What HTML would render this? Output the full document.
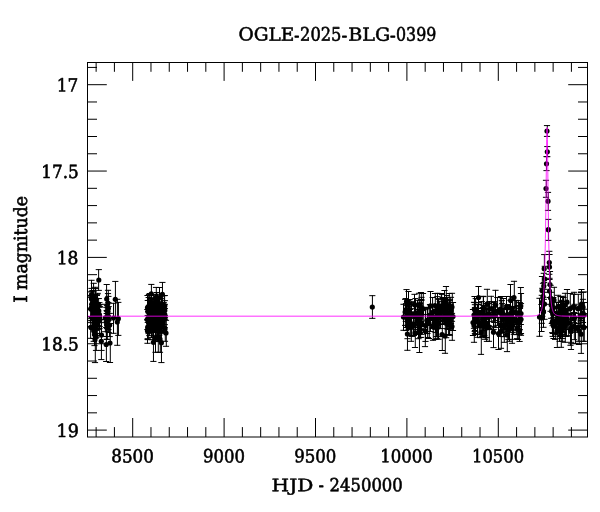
<!DOCTYPE html>
<html lang="en"><head><meta charset="utf-8"><title>OGLE-2025-BLG-0399</title>
<style>html,body{margin:0;padding:0;background:#fff;}body{width:600px;height:512px;overflow:hidden;}svg{display:block;}text{font-family:"DejaVu Serif","Liberation Serif",serif;fill:#000;stroke:#000;stroke-linejoin:round;text-rendering:geometricPrecision;}</style>
</head><body>
<svg width="600" height="512" viewBox="0 0 600 512">
<rect width="600" height="512" fill="#fff"/>
<g stroke="#000" stroke-width="1" fill="none" stroke-linecap="round">
<path d="M372.42 295.66V318.34M369.6 295.66h5.4M369.6 318.34h5.4M98.62 269.62V290.38M96.1 269.62h5.4M96.1 290.38h5.4M91.50 280.30V309.30M88.8 280.30h5.4M88.8 309.30h5.4M93.58 283.30V309.30M91.0 283.30h5.4M91.0 309.30h5.4M95.30 287.30V315.30M92.3 287.30h5.4M92.3 315.30h5.4M106.58 284.50V313.50M104.0 284.50h5.4M104.0 313.50h5.4M108.30 293.58V329.42M105.3 293.58h5.4M105.3 329.42h5.4M108.30 290.30V316.30M105.3 290.30h5.4M105.3 316.30h5.4M107.30 311.30V339.30M104.3 311.30h5.4M104.3 339.30h5.4M115.42 281.42V317.42M112.6 281.42h5.4M112.6 317.42h5.4M118.42 302.38V335.38M115.6 302.38h5.4M115.6 335.38h5.4M113.50 303.30V333.30M110.8 303.30h5.4M110.8 333.30h5.4M117.42 299.30V345.30M114.6 299.30h5.4M114.6 345.30h5.4M95.30 316.58V362.58M92.3 316.58h5.4M92.3 362.58h5.4M96.30 321.58V350.42M93.3 321.58h5.4M93.3 350.42h5.4M101.42 322.66V359.58M98.6 322.66h5.4M98.6 359.58h5.4M101.50 319.58V350.42M98.8 319.58h5.4M98.8 350.42h5.4M106.38 327.50V361.50M103.5 327.50h5.4M103.5 361.50h5.4M110.30 323.50V362.50M107.3 323.50h5.4M107.3 362.50h5.4M94.52 323.45V345.61M91.8 323.45h5.4M91.8 345.61h5.4M94.35 305.49V327.31M91.4 305.49h5.4M91.4 327.31h5.4M95.66 306.35V329.53M93.2 306.35h5.4M93.2 329.53h5.4M95.64 308.66V330.42M93.2 308.66h5.4M93.2 330.42h5.4M95.61 288.48V309.37M93.1 288.48h5.4M93.1 309.37h5.4M95.43 314.39V335.60M92.6 314.39h5.4M92.6 335.60h5.4M93.65 318.43V338.51M91.2 318.43h5.4M91.2 338.51h5.4M90.63 295.43V322.64M88.1 295.43h5.4M88.1 322.64h5.4M98.55 305.48V326.40M95.9 305.48h5.4M95.9 326.40h5.4M94.51 294.67V322.30M91.8 294.67h5.4M91.8 322.30h5.4M96.30 302.40V326.48M93.3 302.40h5.4M93.3 326.48h5.4M97.37 294.33V320.57M94.5 294.33h5.4M94.5 320.57h5.4M98.33 306.50V328.39M95.4 306.50h5.4M95.4 328.39h5.4M92.49 290.46V318.32M89.8 290.46h5.4M89.8 318.32h5.4M91.37 297.56V318.68M88.5 297.56h5.4M88.5 318.68h5.4M99.56 307.32V328.65M96.9 307.32h5.4M96.9 328.65h5.4M95.56 299.36V320.47M93.0 299.36h5.4M93.0 320.47h5.4M93.59 320.48V341.33M91.0 320.48h5.4M91.0 341.33h5.4M99.60 306.45V333.59M97.1 306.45h5.4M97.1 333.59h5.4M97.66 303.58V329.35M95.2 303.58h5.4M95.2 329.35h5.4M97.56 293.35V316.69M95.0 293.35h5.4M95.0 316.69h5.4M91.44 296.31V320.66M88.7 296.31h5.4M88.7 320.66h5.4M94.53 294.52V322.37M91.9 294.52h5.4M91.9 322.37h5.4M92.55 304.58V329.36M89.9 304.58h5.4M89.9 329.36h5.4M91.51 288.38V309.51M88.8 288.38h5.4M88.8 309.51h5.4M99.50 304.54V326.67M96.8 304.54h5.4M96.8 326.67h5.4M95.55 309.36V333.42M92.9 309.36h5.4M92.9 333.42h5.4M90.63 316.52V338.31M88.1 316.52h5.4M88.1 338.31h5.4M96.41 302.32V328.48M93.6 302.32h5.4M93.6 328.48h5.4M91.57 291.35V317.48M89.0 291.35h5.4M89.0 317.48h5.4M99.46 302.69V326.43M96.7 302.69h5.4M96.7 326.43h5.4M92.70 305.48V328.34M90.3 305.48h5.4M90.3 328.34h5.4M94.44 302.53V324.30M91.7 302.53h5.4M91.7 324.30h5.4M96.67 295.48V318.60M94.2 295.48h5.4M94.2 318.60h5.4M97.31 302.62V325.46M94.3 302.62h5.4M94.3 325.46h5.4M91.46 295.62V320.61M88.7 295.62h5.4M88.7 320.61h5.4M92.55 306.36V327.40M89.9 306.36h5.4M89.9 327.40h5.4M98.64 298.55V322.67M96.1 298.55h5.4M96.1 322.67h5.4M97.32 309.68V335.43M94.3 309.68h5.4M94.3 335.43h5.4M97.69 302.64V325.61M95.3 302.64h5.4M95.3 325.61h5.4M95.48 313.60V338.44M92.8 313.60h5.4M92.8 338.44h5.4M96.49 311.45V337.32M93.8 311.45h5.4M93.8 337.32h5.4M105.37 304.30V331.69M102.5 304.30h5.4M102.5 331.69h5.4M108.47 296.40V320.45M105.7 296.40h5.4M105.7 320.45h5.4M108.57 306.63V332.56M106.0 306.63h5.4M106.0 332.56h5.4M106.43 307.34V336.49M103.6 307.34h5.4M103.6 336.49h5.4M108.45 302.61V329.61M105.7 302.61h5.4M105.7 329.61h5.4M109.57 313.40V336.60M107.0 313.40h5.4M107.0 336.60h5.4M106.69 305.39V328.57M104.3 305.39h5.4M104.3 328.57h5.4M106.60 310.47V339.38M104.0 310.47h5.4M104.0 339.38h5.4M151.42 284.42V303.42M148.6 284.42h5.4M148.6 303.42h5.4M162.46 282.42V306.42M159.7 282.42h5.4M159.7 306.42h5.4M156.30 287.42V307.42M153.3 287.42h5.4M153.3 307.42h5.4M159.50 287.50V307.50M156.8 287.50h5.4M156.8 307.50h5.4M147.50 295.50V319.50M144.8 295.50h5.4M144.8 319.50h5.4M153.46 323.42V361.42M150.7 323.42h5.4M150.7 361.42h5.4M161.46 322.58V362.58M158.7 322.58h5.4M158.7 362.58h5.4M155.50 324.30V352.30M152.8 324.30h5.4M152.8 352.30h5.4M158.30 322.30V352.30M155.3 322.30h5.4M155.3 352.30h5.4M160.30 326.30V352.30M157.3 326.30h5.4M157.3 352.30h5.4M147.50 319.30V343.30M144.8 319.30h5.4M144.8 343.30h5.4M165.30 317.30V341.30M162.3 317.30h5.4M162.3 341.30h5.4M166.30 320.30V346.30M163.3 320.30h5.4M163.3 346.30h5.4M148.56 297.54V317.59M146.0 297.54h5.4M146.0 317.59h5.4M161.47 313.70V332.53M158.7 313.70h5.4M158.7 332.53h5.4M162.31 308.63V328.48M159.3 308.63h5.4M159.3 328.48h5.4M154.67 311.34V332.58M152.2 311.34h5.4M152.2 332.58h5.4M161.52 307.39V327.55M158.8 307.39h5.4M158.8 327.55h5.4M153.32 311.66V330.68M150.3 311.66h5.4M150.3 330.68h5.4M151.31 307.37V329.36M148.3 307.37h5.4M148.3 329.36h5.4M153.60 313.34V337.34M151.1 313.34h5.4M151.1 337.34h5.4M148.68 305.31V326.58M146.3 305.31h5.4M146.3 326.58h5.4M157.38 300.51V322.37M154.5 300.51h5.4M154.5 322.37h5.4M161.42 298.66V317.68M158.6 298.66h5.4M158.6 317.68h5.4M156.65 292.53V311.59M154.2 292.53h5.4M154.2 311.59h5.4M154.61 298.60V316.67M152.1 298.60h5.4M152.1 316.67h5.4M159.39 311.48V335.37M156.5 311.48h5.4M156.5 335.37h5.4M159.36 301.32V319.37M156.4 301.32h5.4M156.4 319.37h5.4M155.61 313.50V337.35M153.1 313.50h5.4M153.1 337.35h5.4M149.52 308.49V330.47M146.9 308.49h5.4M146.9 330.47h5.4M152.64 307.38V328.58M150.2 307.38h5.4M150.2 328.58h5.4M148.44 311.55V331.37M145.7 311.55h5.4M145.7 331.37h5.4M151.42 305.60V327.65M148.6 305.60h5.4M148.6 327.65h5.4M151.56 298.53V323.51M149.0 298.53h5.4M149.0 323.51h5.4M164.32 295.65V318.44M161.4 295.65h5.4M161.4 318.44h5.4M150.37 305.62V323.66M147.5 305.62h5.4M147.5 323.66h5.4M161.35 302.43V322.37M158.4 302.43h5.4M158.4 322.37h5.4M151.52 302.57V327.51M148.8 302.57h5.4M148.8 327.51h5.4M151.44 295.38V317.64M148.7 295.38h5.4M148.7 317.64h5.4M157.47 316.64V339.46M154.7 316.64h5.4M154.7 339.46h5.4M162.65 312.30V330.39M160.2 312.30h5.4M160.2 330.39h5.4M163.60 302.44V326.59M161.0 302.44h5.4M161.0 326.59h5.4M153.67 294.40V315.38M151.2 294.40h5.4M151.2 315.38h5.4M149.42 316.33V335.63M146.6 316.33h5.4M146.6 335.63h5.4M152.61 299.64V322.68M150.1 299.64h5.4M150.1 322.68h5.4M164.60 304.37V324.65M162.1 304.37h5.4M162.1 324.65h5.4M157.53 294.33V316.49M154.9 294.33h5.4M154.9 316.49h5.4M150.67 297.66V320.41M148.2 297.66h5.4M148.2 320.41h5.4M147.62 300.48V322.46M145.1 300.48h5.4M145.1 322.46h5.4M151.62 311.64V330.50M149.1 311.64h5.4M149.1 330.50h5.4M161.54 307.64V325.68M158.9 307.64h5.4M158.9 325.68h5.4M157.48 318.32V341.53M154.7 318.32h5.4M154.7 341.53h5.4M161.47 303.46V325.56M158.7 303.46h5.4M158.7 325.56h5.4M152.63 311.55V331.55M150.1 311.55h5.4M150.1 331.55h5.4M151.33 294.59V315.52M148.4 294.59h5.4M148.4 315.52h5.4M158.67 314.64V337.68M156.2 314.64h5.4M156.2 337.68h5.4M156.69 292.54V315.38M154.3 292.54h5.4M154.3 315.38h5.4M164.61 300.63V319.67M162.1 300.63h5.4M162.1 319.67h5.4M160.50 310.58V330.66M157.8 310.58h5.4M157.8 330.66h5.4M154.59 299.59V320.49M152.0 299.59h5.4M152.0 320.49h5.4M148.69 294.45V317.52M146.3 294.45h5.4M146.3 317.52h5.4M151.48 314.69V337.43M148.7 314.69h5.4M148.7 337.43h5.4M160.63 308.46V327.50M158.1 308.46h5.4M158.1 327.50h5.4M159.51 306.38V330.54M156.8 306.38h5.4M156.8 330.54h5.4M154.41 301.52V321.61M151.6 301.52h5.4M151.6 321.61h5.4M148.30 320.36V339.64M145.3 320.36h5.4M145.3 339.64h5.4M158.34 297.59V318.49M155.4 297.59h5.4M155.4 318.49h5.4M149.61 307.59V331.34M147.1 307.59h5.4M147.1 331.34h5.4M154.31 300.33V324.45M151.3 300.33h5.4M151.3 324.45h5.4M161.55 295.50V314.47M158.9 295.50h5.4M158.9 314.47h5.4M164.65 308.45V327.69M162.2 308.45h5.4M162.2 327.69h5.4M163.36 307.65V328.34M160.5 307.65h5.4M160.5 328.34h5.4M149.32 306.59V329.57M146.4 306.59h5.4M146.4 329.57h5.4M159.56 308.38V331.49M156.9 308.38h5.4M156.9 331.49h5.4M161.44 308.41V330.65M158.7 308.41h5.4M158.7 330.65h5.4M147.43 309.46V329.60M144.6 309.46h5.4M144.6 329.60h5.4M157.65 296.59V321.45M155.2 296.59h5.4M155.2 321.45h5.4M164.64 295.54V315.61M162.1 295.54h5.4M162.1 315.61h5.4M152.69 311.50V332.53M150.3 311.50h5.4M150.3 332.53h5.4M158.64 307.64V327.50M156.2 307.64h5.4M156.2 327.50h5.4M149.34 300.42V321.63M146.4 300.42h5.4M146.4 321.63h5.4M149.63 293.54V312.69M147.1 293.54h5.4M147.1 312.69h5.4M152.35 321.53V339.66M149.4 321.53h5.4M149.4 339.66h5.4M161.53 307.66V331.53M158.9 307.66h5.4M158.9 331.53h5.4M154.34 302.58V327.45M151.4 302.58h5.4M151.4 327.45h5.4M159.46 305.35V326.59M156.7 305.35h5.4M156.7 326.59h5.4M156.36 318.51V341.59M153.5 318.51h5.4M153.5 341.59h5.4M147.58 315.43V338.69M145.0 315.43h5.4M145.0 338.69h5.4M153.57 315.55V335.34M151.0 315.55h5.4M151.0 335.34h5.4M150.63 303.34V323.47M148.1 303.34h5.4M148.1 323.47h5.4M148.53 311.69V333.64M145.9 311.69h5.4M145.9 333.64h5.4M157.43 317.37V336.34M154.6 317.37h5.4M154.6 336.34h5.4M147.60 320.49V339.47M145.0 320.49h5.4M145.0 339.47h5.4M158.34 312.55V335.52M155.4 312.55h5.4M155.4 335.52h5.4M156.55 303.60V324.43M153.9 303.60h5.4M153.9 324.43h5.4M154.51 306.35V330.53M151.8 306.35h5.4M151.8 330.53h5.4M158.63 311.62V331.30M156.1 311.62h5.4M156.1 331.30h5.4M161.60 311.63V333.67M159.1 311.63h5.4M159.1 333.67h5.4M406.50 289.58V313.42M403.8 289.58h5.4M403.8 313.42h5.4M408.50 291.50V315.50M405.8 291.50h5.4M405.8 315.50h5.4M421.30 292.50V321.65M418.3 292.50h5.4M418.3 321.65h5.4M419.30 293.30V319.42M416.3 293.30h5.4M416.3 319.42h5.4M423.30 293.50V324.36M420.3 293.50h5.4M420.3 324.36h5.4M430.50 291.50V320.40M427.8 291.50h5.4M427.8 320.40h5.4M437.50 293.30V319.54M434.8 293.30h5.4M434.8 319.54h5.4M435.30 293.50V317.49M432.3 293.50h5.4M432.3 317.49h5.4M441.30 293.50V318.53M438.3 293.50h5.4M438.3 318.53h5.4M446.30 286.50V314.50M443.3 286.50h5.4M443.3 314.50h5.4M444.50 290.50V316.50M441.8 290.50h5.4M441.8 316.50h5.4M452.30 293.30V321.30M449.3 293.30h5.4M449.3 321.30h5.4M449.30 293.50V317.52M446.3 293.50h5.4M446.3 317.52h5.4M403.50 304.30V330.30M400.8 304.30h5.4M400.8 330.30h5.4M453.30 302.50V330.50M450.3 302.50h5.4M450.3 330.50h5.4M407.46 318.30V350.30M404.7 318.30h5.4M404.7 350.30h5.4M415.30 318.42V347.50M412.3 318.42h5.4M412.3 347.50h5.4M419.46 311.50V352.50M416.7 311.50h5.4M416.7 352.50h5.4M425.30 314.60V346.62M422.3 314.60h5.4M422.3 346.62h5.4M425.50 309.65V341.42M422.8 309.65h5.4M422.8 341.42h5.4M435.30 309.35V339.50M432.3 309.35h5.4M432.3 339.50h5.4M433.30 311.59V340.30M430.3 311.59h5.4M430.3 340.30h5.4M442.30 318.50V350.50M439.3 318.50h5.4M439.3 350.50h5.4M445.30 319.30V353.30M442.3 319.30h5.4M442.3 353.30h5.4M452.30 313.39V340.30M449.3 313.39h5.4M449.3 340.30h5.4M411.30 308.68V341.30M408.3 308.68h5.4M408.3 341.30h5.4M429.30 307.62V338.50M426.3 307.62h5.4M426.3 338.50h5.4M438.50 308.45V339.30M435.8 308.45h5.4M435.8 339.30h5.4M432.61 305.45V328.48M430.1 305.45h5.4M430.1 328.48h5.4M418.50 309.70V338.69M415.8 309.70h5.4M415.8 338.69h5.4M438.56 299.33V323.67M436.0 299.33h5.4M436.0 323.67h5.4M409.52 299.67V324.57M406.8 299.67h5.4M406.8 324.57h5.4M432.59 297.47V327.47M430.0 297.47h5.4M430.0 327.47h5.4M448.43 314.33V334.64M445.6 314.33h5.4M445.6 334.64h5.4M449.66 307.35V335.37M447.2 307.35h5.4M447.2 335.37h5.4M414.51 294.34V315.47M411.8 294.34h5.4M411.8 315.47h5.4M435.43 309.30V329.36M432.6 309.30h5.4M432.6 329.36h5.4M449.68 299.69V329.33M447.3 299.69h5.4M447.3 329.33h5.4M417.32 306.38V334.55M414.3 306.38h5.4M414.3 334.55h5.4M405.35 299.34V325.37M402.4 299.34h5.4M402.4 325.37h5.4M415.42 303.38V329.57M412.6 303.38h5.4M412.6 329.57h5.4M409.42 304.32V328.49M406.6 304.32h5.4M406.6 328.49h5.4M407.64 302.59V325.70M405.2 302.59h5.4M405.2 325.70h5.4M427.32 307.31V333.55M424.3 307.31h5.4M424.3 333.55h5.4M411.47 301.69V328.63M408.7 301.69h5.4M408.7 328.63h5.4M421.56 314.32V334.37M418.9 314.32h5.4M418.9 334.37h5.4M421.30 299.63V329.47M418.3 299.63h5.4M418.3 329.47h5.4M427.48 307.51V333.54M424.7 307.51h5.4M424.7 333.54h5.4M408.36 300.40V322.41M405.4 300.40h5.4M405.4 322.41h5.4M409.50 299.49V325.32M406.8 299.49h5.4M406.8 325.32h5.4M435.56 309.69V332.45M432.9 309.69h5.4M432.9 332.45h5.4M417.45 309.40V333.32M414.7 309.40h5.4M414.7 333.32h5.4M447.57 307.35V329.30M445.0 307.35h5.4M445.0 329.30h5.4M420.46 306.43V330.39M417.7 306.43h5.4M417.7 330.39h5.4M417.54 300.32V327.37M414.9 300.32h5.4M414.9 327.37h5.4M449.42 305.50V334.53M446.6 305.50h5.4M446.6 334.53h5.4M430.57 305.35V331.57M428.0 305.35h5.4M428.0 331.57h5.4M443.48 299.36V320.49M440.8 299.36h5.4M440.8 320.49h5.4M406.50 305.62V327.48M403.8 305.62h5.4M403.8 327.48h5.4M411.67 316.34V336.45M409.2 316.34h5.4M409.2 336.45h5.4M419.61 302.31V326.36M417.1 302.31h5.4M417.1 326.36h5.4M444.52 298.45V321.31M441.9 298.45h5.4M441.9 321.31h5.4M420.30 311.63V332.55M417.3 311.63h5.4M417.3 332.55h5.4M408.61 306.69V329.56M406.1 306.69h5.4M406.1 329.56h5.4M419.65 304.32V333.58M417.2 304.32h5.4M417.2 333.58h5.4M442.60 297.50V324.46M440.0 297.50h5.4M440.0 324.46h5.4M430.31 304.56V325.57M427.3 304.56h5.4M427.3 325.57h5.4M445.58 299.31V323.55M443.0 299.31h5.4M443.0 323.55h5.4M450.50 304.42V328.53M447.8 304.42h5.4M447.8 328.53h5.4M437.47 296.65V319.42M434.7 296.65h5.4M434.7 319.42h5.4M421.48 297.33V326.53M418.8 297.33h5.4M418.8 326.53h5.4M421.47 300.50V328.34M418.7 300.50h5.4M418.7 328.34h5.4M450.69 297.33V323.60M448.3 297.33h5.4M448.3 323.60h5.4M436.49 310.44V336.55M433.8 310.44h5.4M433.8 336.55h5.4M413.65 314.66V335.36M411.2 314.66h5.4M411.2 335.36h5.4M437.32 316.68V338.68M434.4 316.68h5.4M434.4 338.68h5.4M446.41 305.49V328.56M443.6 305.49h5.4M443.6 328.56h5.4M420.65 307.64V337.36M418.2 307.64h5.4M418.2 337.36h5.4M446.69 295.54V315.55M444.3 295.54h5.4M444.3 315.55h5.4M415.49 298.57V327.38M412.8 298.57h5.4M412.8 327.38h5.4M439.64 301.34V328.56M437.1 301.34h5.4M437.1 328.56h5.4M449.62 300.41V324.67M447.1 300.41h5.4M447.1 324.67h5.4M450.32 302.38V323.37M447.3 302.38h5.4M447.3 323.37h5.4M410.68 302.57V323.66M408.2 302.57h5.4M408.2 323.66h5.4M438.55 298.68V328.59M435.9 298.68h5.4M435.9 328.59h5.4M420.48 311.32V337.54M417.7 311.32h5.4M417.7 337.54h5.4M421.40 299.51V323.69M418.6 299.51h5.4M418.6 323.69h5.4M410.34 309.43V335.60M407.4 309.43h5.4M407.4 335.60h5.4M441.69 294.42V321.68M439.3 294.42h5.4M439.3 321.68h5.4M440.53 305.62V328.48M437.9 305.62h5.4M437.9 328.48h5.4M427.65 308.59V337.46M425.2 308.59h5.4M425.2 337.46h5.4M405.60 298.58V321.36M403.1 298.58h5.4M403.1 321.36h5.4M407.51 313.32V338.69M404.8 313.32h5.4M404.8 338.69h5.4M406.32 303.63V330.55M403.3 303.63h5.4M403.3 330.55h5.4M447.43 297.61V318.58M444.6 297.61h5.4M444.6 318.58h5.4M419.66 303.49V329.46M417.2 303.49h5.4M417.2 329.46h5.4M443.32 298.45V324.40M440.3 298.45h5.4M440.3 324.40h5.4M437.65 308.30V336.65M435.2 308.30h5.4M435.2 336.65h5.4M446.36 308.51V337.69M443.5 308.51h5.4M443.5 337.69h5.4M413.62 313.46V335.32M411.1 313.46h5.4M411.1 335.32h5.4M478.50 286.50V308.50M475.8 286.50h5.4M475.8 308.50h5.4M487.30 289.30V319.37M484.3 289.30h5.4M484.3 319.37h5.4M495.50 290.30V320.54M492.8 290.30h5.4M492.8 320.54h5.4M506.50 296.50V318.50M503.8 296.50h5.4M503.8 318.50h5.4M510.50 284.50V316.50M507.8 284.50h5.4M507.8 316.50h5.4M514.30 281.30V314.30M511.3 281.30h5.4M511.3 314.30h5.4M520.62 287.50V324.50M518.1 287.50h5.4M518.1 324.50h5.4M521.30 293.50V333.50M518.3 293.50h5.4M518.3 333.50h5.4M474.50 296.50V322.50M471.8 296.50h5.4M471.8 322.50h5.4M474.30 302.30V328.30M471.3 302.30h5.4M471.3 328.30h5.4M473.30 309.50V335.50M470.3 309.50h5.4M470.3 335.50h5.4M483.30 296.30V326.61M480.3 296.30h5.4M480.3 326.61h5.4M491.30 296.30V321.65M488.3 296.30h5.4M488.3 321.65h5.4M500.30 297.30V321.62M497.3 297.30h5.4M497.3 321.62h5.4M503.30 298.50V328.66M500.3 298.50h5.4M500.3 328.66h5.4M474.30 309.30V342.30M471.3 309.30h5.4M471.3 342.30h5.4M481.30 310.62V354.38M478.3 310.62h5.4M478.3 354.38h5.4M493.50 316.57V347.62M490.8 316.57h5.4M490.8 347.62h5.4M498.50 317.50V349.50M495.8 317.50h5.4M495.8 349.50h5.4M501.30 314.60V348.30M498.3 314.60h5.4M498.3 348.30h5.4M507.30 317.62V351.62M504.3 317.62h5.4M504.3 351.62h5.4M512.30 311.58V343.30M509.3 311.58h5.4M509.3 343.30h5.4M518.30 305.56V339.50M515.3 305.56h5.4M515.3 339.50h5.4M521.30 303.58V335.30M518.3 303.58h5.4M518.3 335.30h5.4M477.50 304.62V337.30M474.8 304.62h5.4M474.8 337.30h5.4M485.30 305.61V339.30M482.3 305.61h5.4M482.3 339.30h5.4M489.30 312.58V341.30M486.3 312.58h5.4M486.3 341.30h5.4M504.30 308.62V342.30M501.3 308.62h5.4M501.3 342.30h5.4M509.50 312.65V341.30M506.8 312.65h5.4M506.8 341.30h5.4M512.50 311.30V339.30M509.8 311.30h5.4M509.8 339.30h5.4M518.39 300.65V326.42M515.5 300.65h5.4M515.5 326.42h5.4M503.56 314.37V336.67M501.0 314.37h5.4M501.0 336.67h5.4M475.32 307.45V330.50M472.3 307.45h5.4M472.3 330.50h5.4M486.38 308.63V337.47M483.5 308.63h5.4M483.5 337.47h5.4M484.42 308.60V335.60M481.6 308.60h5.4M481.6 335.60h5.4M519.55 320.31V341.45M516.9 320.31h5.4M516.9 341.45h5.4M482.66 307.56V330.59M480.2 307.56h5.4M480.2 330.59h5.4M516.41 306.69V334.65M513.6 306.69h5.4M513.6 334.65h5.4M478.44 304.43V327.66M475.6 304.43h5.4M475.6 327.66h5.4M519.70 308.45V334.32M517.3 308.45h5.4M517.3 334.32h5.4M493.55 302.52V329.42M490.9 302.52h5.4M490.9 329.42h5.4M481.68 301.64V322.47M479.2 301.64h5.4M479.2 322.47h5.4M507.61 304.55V331.37M505.1 304.55h5.4M505.1 331.37h5.4M501.64 300.60V327.45M499.1 300.60h5.4M499.1 327.45h5.4M512.52 297.61V326.43M509.8 297.61h5.4M509.8 326.43h5.4M507.38 305.50V328.61M504.5 305.50h5.4M504.5 328.61h5.4M495.39 304.41V327.44M492.5 304.41h5.4M492.5 327.44h5.4M483.51 296.62V319.49M480.8 296.62h5.4M480.8 319.49h5.4M517.33 318.65V338.67M514.4 318.65h5.4M514.4 338.67h5.4M493.58 306.34V326.39M491.0 306.34h5.4M491.0 326.39h5.4M500.39 313.51V336.44M497.5 313.51h5.4M497.5 336.44h5.4M479.37 310.70V334.60M476.5 310.70h5.4M476.5 334.60h5.4M494.43 301.65V322.52M491.6 301.65h5.4M491.6 322.52h5.4M489.49 301.56V328.54M486.8 301.56h5.4M486.8 328.54h5.4M474.57 302.56V331.42M472.0 302.56h5.4M472.0 331.42h5.4M483.48 305.55V330.68M480.7 305.55h5.4M480.7 330.68h5.4M510.47 300.30V328.68M507.7 300.30h5.4M507.7 328.68h5.4M474.64 304.70V333.58M472.2 304.70h5.4M472.2 333.58h5.4M519.63 302.54V329.61M517.1 302.54h5.4M517.1 329.61h5.4M502.34 303.63V332.49M499.4 303.63h5.4M499.4 332.49h5.4M478.49 304.31V326.46M475.8 304.31h5.4M475.8 326.46h5.4M486.62 303.54V327.49M484.1 303.54h5.4M484.1 327.49h5.4M497.44 297.53V325.34M494.6 297.53h5.4M494.6 325.34h5.4M512.58 311.62V332.43M510.0 311.62h5.4M510.0 332.43h5.4M478.62 302.58V323.64M476.1 302.58h5.4M476.1 323.64h5.4M508.47 319.59V339.60M505.7 319.59h5.4M505.7 339.60h5.4M505.60 313.64V336.43M503.1 313.64h5.4M503.1 336.43h5.4M503.64 308.64V329.54M501.1 308.64h5.4M501.1 329.54h5.4M515.61 300.40V324.68M513.1 300.40h5.4M513.1 324.68h5.4M511.63 308.62V330.65M509.1 308.62h5.4M509.1 330.65h5.4M480.35 313.45V337.63M477.4 313.45h5.4M477.4 337.63h5.4M488.56 303.41V325.59M485.9 303.41h5.4M485.9 325.59h5.4M513.59 306.62V334.32M511.0 306.62h5.4M511.0 334.32h5.4M516.43 300.62V324.69M513.6 300.62h5.4M513.6 324.69h5.4M485.69 315.34V337.65M483.3 315.34h5.4M483.3 337.65h5.4M486.65 314.40V341.40M484.2 314.40h5.4M484.2 341.40h5.4M486.46 309.57V337.52M483.7 309.57h5.4M483.7 337.52h5.4M475.46 308.68V334.41M472.7 308.68h5.4M472.7 334.41h5.4M489.35 303.65V329.61M486.4 303.65h5.4M486.4 329.61h5.4M482.37 314.50V336.34M479.5 314.50h5.4M479.5 336.34h5.4M513.36 307.48V329.68M510.5 307.48h5.4M510.5 329.68h5.4M501.34 296.51V325.64M498.4 296.51h5.4M498.4 325.64h5.4M510.44 296.46V319.70M507.7 296.46h5.4M507.7 319.70h5.4M506.61 309.60V334.68M504.1 309.60h5.4M504.1 334.68h5.4M475.59 298.64V323.58M473.0 298.64h5.4M473.0 323.58h5.4M483.40 313.61V336.60M480.6 313.61h5.4M480.6 336.60h5.4M547.30 125.58V136.42M544.3 125.58h5.4M544.3 136.42h5.4M547.42 146.58V156.66M544.6 146.58h5.4M544.6 156.66h5.4M546.50 156.62V170.62M543.8 156.62h5.4M543.8 170.62h5.4M546.30 180.30V197.30M543.3 180.30h5.4M543.3 197.30h5.4M548.30 192.38V210.38M545.3 192.38h5.4M545.3 210.38h5.4M548.42 219.38V240.38M545.6 219.38h5.4M545.6 240.38h5.4M549.42 251.30V274.30M546.6 251.30h5.4M546.6 274.30h5.4M549.50 254.50V279.50M546.8 254.50h5.4M546.8 279.50h5.4M544.38 254.58V282.58M541.5 254.58h5.4M541.5 282.58h5.4M550.30 271.50V297.50M547.3 271.50h5.4M547.3 297.50h5.4M549.50 278.30V304.30M546.8 278.30h5.4M546.8 304.30h5.4M542.30 276.50V304.50M539.3 276.50h5.4M539.3 304.50h5.4M544.50 289.30V319.30M541.8 289.30h5.4M541.8 319.30h5.4M543.50 297.30V327.30M540.8 297.30h5.4M540.8 327.30h5.4M541.50 304.50V331.50M538.8 304.50h5.4M538.8 331.50h5.4M539.50 298.30V336.30M536.8 298.30h5.4M536.8 336.30h5.4M544.62 266.30V292.30M542.1 266.30h5.4M542.1 292.30h5.4M550.54 285.30V311.30M547.9 285.30h5.4M547.9 311.30h5.4M543.62 273.30V299.30M541.1 273.30h5.4M541.1 299.30h5.4M543.30 283.30V310.30M540.3 283.30h5.4M540.3 310.30h5.4M542.42 288.30V316.30M539.6 288.30h5.4M539.6 316.30h5.4M541.62 295.30V323.30M539.1 295.30h5.4M539.1 323.30h5.4M551.38 292.30V318.30M548.5 292.30h5.4M548.5 318.30h5.4M551.62 297.50V323.50M549.1 297.50h5.4M549.1 323.50h5.4M554.30 287.30V313.30M551.3 287.30h5.4M551.3 313.30h5.4M567.30 289.50V314.67M564.3 289.50h5.4M564.3 314.67h5.4M565.30 293.30V317.30M562.3 293.30h5.4M562.3 317.30h5.4M563.30 296.30V322.51M560.3 296.30h5.4M560.3 322.51h5.4M574.30 292.30V322.62M571.3 292.30h5.4M571.3 322.62h5.4M581.50 289.50V318.52M578.8 289.50h5.4M578.8 318.52h5.4M583.30 292.30V322.49M580.3 292.30h5.4M580.3 322.49h5.4M558.30 295.30V318.54M555.3 295.30h5.4M555.3 318.54h5.4M560.50 296.50V326.66M557.8 296.50h5.4M557.8 326.66h5.4M570.30 293.50V323.62M567.3 293.50h5.4M567.3 323.62h5.4M578.30 294.30V323.49M575.3 294.30h5.4M575.3 323.49h5.4M573.50 294.30V320.30M570.8 294.30h5.4M570.8 320.30h5.4M581.30 292.50V320.50M578.3 292.50h5.4M578.3 320.50h5.4M583.30 299.30V327.30M580.3 299.30h5.4M580.3 327.30h5.4M553.50 313.39V338.50M550.8 313.39h5.4M550.8 338.50h5.4M557.30 314.62V347.50M554.3 314.62h5.4M554.3 347.50h5.4M561.30 313.39V347.30M558.3 313.39h5.4M558.3 347.30h5.4M562.30 309.54V341.30M559.3 309.54h5.4M559.3 341.30h5.4M571.30 313.50V349.50M568.3 313.50h5.4M568.3 349.50h5.4M570.50 315.64V345.30M567.8 315.64h5.4M567.8 345.30h5.4M579.30 317.33V344.50M576.3 317.33h5.4M576.3 344.50h5.4M581.30 315.38V353.38M578.3 315.38h5.4M578.3 353.38h5.4M565.30 309.39V342.30M562.3 309.39h5.4M562.3 342.30h5.4M575.50 313.31V343.30M572.8 313.31h5.4M572.8 343.30h5.4M584.30 313.61V341.30M581.3 313.61h5.4M581.3 341.30h5.4M571.30 314.30V342.30M568.3 314.30h5.4M568.3 342.30h5.4M578.30 313.30V341.30M575.3 313.30h5.4M575.3 341.30h5.4M583.30 313.30V341.30M580.3 313.30h5.4M580.3 341.30h5.4M553.43 297.53V317.60M550.6 297.53h5.4M550.6 317.60h5.4M563.39 305.43V328.46M560.5 305.43h5.4M560.5 328.46h5.4M559.46 307.54V336.33M556.7 307.54h5.4M556.7 336.33h5.4M559.53 314.44V341.34M556.9 314.44h5.4M556.9 341.34h5.4M558.49 302.54V329.53M555.8 302.54h5.4M555.8 329.53h5.4M561.68 304.66V334.45M559.2 304.66h5.4M559.2 334.45h5.4M552.35 299.32V323.38M549.4 299.32h5.4M549.4 323.38h5.4M552.58 308.35V336.40M550.0 308.35h5.4M550.0 336.40h5.4M552.58 301.60V325.70M550.0 301.60h5.4M550.0 325.70h5.4M565.46 301.69V324.31M562.7 301.69h5.4M562.7 324.31h5.4M560.37 304.38V329.56M557.5 304.38h5.4M557.5 329.56h5.4M562.57 317.60V338.59M560.0 317.60h5.4M560.0 338.59h5.4M562.35 301.57V331.45M559.4 301.57h5.4M559.4 331.45h5.4M565.54 301.56V329.53M562.9 301.56h5.4M562.9 329.53h5.4M563.66 303.34V332.65M561.2 303.34h5.4M561.2 332.65h5.4M556.39 306.70V334.68M553.5 306.70h5.4M553.5 334.68h5.4M552.64 307.64V333.49M550.2 307.64h5.4M550.2 333.49h5.4M563.51 297.52V327.44M560.8 297.52h5.4M560.8 327.44h5.4M560.63 310.60V336.42M558.1 310.60h5.4M558.1 336.42h5.4M564.31 314.35V336.32M561.3 314.35h5.4M561.3 336.32h5.4M560.56 313.62V335.52M558.0 313.62h5.4M558.0 335.52h5.4M556.46 302.30V324.55M553.7 302.30h5.4M553.7 324.55h5.4M556.68 308.62V333.62M554.2 308.62h5.4M554.2 333.62h5.4M567.42 308.68V329.45M564.6 308.68h5.4M564.6 329.45h5.4M566.56 308.52V336.45M564.0 308.52h5.4M564.0 336.45h5.4M565.42 309.47V336.35M562.6 309.47h5.4M562.6 336.35h5.4M560.50 310.65V338.38M557.8 310.65h5.4M557.8 338.38h5.4M555.34 313.36V339.41M552.4 313.36h5.4M552.4 339.41h5.4M561.45 300.31V324.48M558.7 300.31h5.4M558.7 324.48h5.4M552.38 312.31V332.64M549.5 312.31h5.4M549.5 332.64h5.4M561.51 314.46V336.42M558.8 314.46h5.4M558.8 336.42h5.4M562.68 297.54V320.39M560.3 297.54h5.4M560.3 320.39h5.4M568.70 310.51V335.63M566.3 310.51h5.4M566.3 335.63h5.4M574.54 304.31V330.69M571.9 304.31h5.4M571.9 330.69h5.4M574.31 305.67V332.32M571.3 305.67h5.4M571.3 332.32h5.4M574.32 312.46V339.67M571.3 312.46h5.4M571.3 339.67h5.4M584.37 302.54V327.43M581.5 302.54h5.4M581.5 327.43h5.4M580.48 306.32V326.37M577.8 306.32h5.4M577.8 326.37h5.4"/>
</g>
<g fill="#000">
<circle cx="372.3" cy="307.0" r="2.6"/>
<circle cx="98.8" cy="280.0" r="2.6"/>
<circle cx="91.5" cy="294.5" r="2.6"/>
<circle cx="93.7" cy="296.0" r="2.6"/>
<circle cx="95.0" cy="301.0" r="2.6"/>
<circle cx="106.7" cy="299.0" r="2.6"/>
<circle cx="108.0" cy="311.5" r="2.6"/>
<circle cx="108.0" cy="303.0" r="2.6"/>
<circle cx="107.0" cy="325.0" r="2.6"/>
<circle cx="115.3" cy="299.3" r="2.6"/>
<circle cx="118.3" cy="318.7" r="2.6"/>
<circle cx="113.5" cy="318.0" r="2.6"/>
<circle cx="117.3" cy="322.0" r="2.6"/>
<circle cx="95.0" cy="339.7" r="2.6"/>
<circle cx="96.0" cy="336.0" r="2.6"/>
<circle cx="101.3" cy="341.3" r="2.6"/>
<circle cx="101.5" cy="335.0" r="2.6"/>
<circle cx="106.2" cy="344.5" r="2.6"/>
<circle cx="110.0" cy="343.0" r="2.6"/>
<circle cx="94.5" cy="334.6" r="2.6"/>
<circle cx="94.1" cy="316.3" r="2.6"/>
<circle cx="95.9" cy="317.8" r="2.6"/>
<circle cx="95.9" cy="319.6" r="2.6"/>
<circle cx="95.8" cy="298.8" r="2.6"/>
<circle cx="95.3" cy="325.0" r="2.6"/>
<circle cx="93.9" cy="328.4" r="2.6"/>
<circle cx="90.8" cy="309.1" r="2.6"/>
<circle cx="98.6" cy="315.9" r="2.6"/>
<circle cx="94.5" cy="308.5" r="2.6"/>
<circle cx="96.0" cy="314.4" r="2.6"/>
<circle cx="97.2" cy="307.4" r="2.6"/>
<circle cx="98.1" cy="317.4" r="2.6"/>
<circle cx="92.5" cy="304.2" r="2.6"/>
<circle cx="91.2" cy="308.3" r="2.6"/>
<circle cx="99.6" cy="318.0" r="2.6"/>
<circle cx="95.7" cy="309.8" r="2.6"/>
<circle cx="93.7" cy="330.8" r="2.6"/>
<circle cx="99.8" cy="320.0" r="2.6"/>
<circle cx="97.9" cy="316.4" r="2.6"/>
<circle cx="97.7" cy="305.0" r="2.6"/>
<circle cx="91.4" cy="308.5" r="2.6"/>
<circle cx="94.6" cy="308.4" r="2.6"/>
<circle cx="92.6" cy="316.9" r="2.6"/>
<circle cx="91.5" cy="298.9" r="2.6"/>
<circle cx="99.5" cy="315.8" r="2.6"/>
<circle cx="95.6" cy="321.2" r="2.6"/>
<circle cx="90.8" cy="327.3" r="2.6"/>
<circle cx="96.3" cy="315.2" r="2.6"/>
<circle cx="91.7" cy="304.3" r="2.6"/>
<circle cx="99.4" cy="314.7" r="2.6"/>
<circle cx="93.0" cy="316.8" r="2.6"/>
<circle cx="94.4" cy="313.3" r="2.6"/>
<circle cx="96.9" cy="307.1" r="2.6"/>
<circle cx="97.0" cy="314.1" r="2.6"/>
<circle cx="91.4" cy="308.3" r="2.6"/>
<circle cx="92.6" cy="316.7" r="2.6"/>
<circle cx="98.8" cy="310.8" r="2.6"/>
<circle cx="97.0" cy="322.6" r="2.6"/>
<circle cx="98.0" cy="314.3" r="2.6"/>
<circle cx="95.5" cy="326.1" r="2.6"/>
<circle cx="96.5" cy="324.2" r="2.6"/>
<circle cx="105.2" cy="318.0" r="2.6"/>
<circle cx="108.4" cy="308.3" r="2.6"/>
<circle cx="108.7" cy="319.7" r="2.6"/>
<circle cx="106.3" cy="321.8" r="2.6"/>
<circle cx="108.4" cy="316.3" r="2.6"/>
<circle cx="109.7" cy="325.0" r="2.6"/>
<circle cx="107.0" cy="316.9" r="2.6"/>
<circle cx="106.7" cy="324.8" r="2.6"/>
<circle cx="151.3" cy="293.8" r="2.6"/>
<circle cx="162.4" cy="294.3" r="2.6"/>
<circle cx="156.0" cy="297.3" r="2.6"/>
<circle cx="159.5" cy="297.5" r="2.6"/>
<circle cx="147.5" cy="307.5" r="2.6"/>
<circle cx="153.4" cy="342.3" r="2.6"/>
<circle cx="161.4" cy="342.7" r="2.6"/>
<circle cx="155.5" cy="338.0" r="2.6"/>
<circle cx="158.0" cy="337.0" r="2.6"/>
<circle cx="160.0" cy="339.0" r="2.6"/>
<circle cx="147.5" cy="331.0" r="2.6"/>
<circle cx="165.0" cy="329.0" r="2.6"/>
<circle cx="166.0" cy="333.0" r="2.6"/>
<circle cx="148.7" cy="307.7" r="2.6"/>
<circle cx="161.4" cy="323.3" r="2.6"/>
<circle cx="162.0" cy="318.6" r="2.6"/>
<circle cx="154.9" cy="321.9" r="2.6"/>
<circle cx="161.5" cy="317.4" r="2.6"/>
<circle cx="153.0" cy="321.4" r="2.6"/>
<circle cx="151.0" cy="318.2" r="2.6"/>
<circle cx="153.8" cy="325.1" r="2.6"/>
<circle cx="149.0" cy="315.9" r="2.6"/>
<circle cx="157.2" cy="311.3" r="2.6"/>
<circle cx="161.3" cy="308.4" r="2.6"/>
<circle cx="156.9" cy="302.2" r="2.6"/>
<circle cx="154.8" cy="307.8" r="2.6"/>
<circle cx="159.2" cy="323.3" r="2.6"/>
<circle cx="159.1" cy="310.1" r="2.6"/>
<circle cx="155.8" cy="325.3" r="2.6"/>
<circle cx="149.6" cy="319.5" r="2.6"/>
<circle cx="152.9" cy="317.9" r="2.6"/>
<circle cx="148.4" cy="321.4" r="2.6"/>
<circle cx="151.3" cy="316.8" r="2.6"/>
<circle cx="151.7" cy="311.1" r="2.6"/>
<circle cx="164.1" cy="307.1" r="2.6"/>
<circle cx="150.2" cy="314.8" r="2.6"/>
<circle cx="161.1" cy="312.3" r="2.6"/>
<circle cx="151.5" cy="315.1" r="2.6"/>
<circle cx="151.4" cy="306.5" r="2.6"/>
<circle cx="157.4" cy="328.1" r="2.6"/>
<circle cx="162.9" cy="321.1" r="2.6"/>
<circle cx="163.7" cy="314.5" r="2.6"/>
<circle cx="153.9" cy="304.7" r="2.6"/>
<circle cx="149.3" cy="326.0" r="2.6"/>
<circle cx="152.8" cy="311.4" r="2.6"/>
<circle cx="164.8" cy="314.5" r="2.6"/>
<circle cx="157.6" cy="305.3" r="2.6"/>
<circle cx="150.9" cy="309.1" r="2.6"/>
<circle cx="147.8" cy="311.4" r="2.6"/>
<circle cx="151.8" cy="321.2" r="2.6"/>
<circle cx="161.6" cy="316.9" r="2.6"/>
<circle cx="157.4" cy="329.8" r="2.6"/>
<circle cx="161.4" cy="314.5" r="2.6"/>
<circle cx="152.8" cy="321.6" r="2.6"/>
<circle cx="151.1" cy="305.1" r="2.6"/>
<circle cx="158.9" cy="326.4" r="2.6"/>
<circle cx="157.0" cy="303.9" r="2.6"/>
<circle cx="164.8" cy="310.4" r="2.6"/>
<circle cx="160.5" cy="320.8" r="2.6"/>
<circle cx="154.7" cy="310.1" r="2.6"/>
<circle cx="149.0" cy="306.0" r="2.6"/>
<circle cx="151.4" cy="326.2" r="2.6"/>
<circle cx="160.8" cy="318.0" r="2.6"/>
<circle cx="159.5" cy="318.4" r="2.6"/>
<circle cx="154.3" cy="311.7" r="2.6"/>
<circle cx="148.0" cy="330.0" r="2.6"/>
<circle cx="158.1" cy="308.1" r="2.6"/>
<circle cx="149.8" cy="319.4" r="2.6"/>
<circle cx="154.0" cy="312.2" r="2.6"/>
<circle cx="161.6" cy="305.0" r="2.6"/>
<circle cx="164.9" cy="318.2" r="2.6"/>
<circle cx="163.2" cy="318.0" r="2.6"/>
<circle cx="149.1" cy="318.2" r="2.6"/>
<circle cx="159.6" cy="319.8" r="2.6"/>
<circle cx="161.4" cy="319.6" r="2.6"/>
<circle cx="147.3" cy="319.6" r="2.6"/>
<circle cx="157.9" cy="309.0" r="2.6"/>
<circle cx="164.8" cy="305.7" r="2.6"/>
<circle cx="153.0" cy="322.0" r="2.6"/>
<circle cx="158.9" cy="317.7" r="2.6"/>
<circle cx="149.1" cy="311.1" r="2.6"/>
<circle cx="149.8" cy="303.3" r="2.6"/>
<circle cx="152.1" cy="330.7" r="2.6"/>
<circle cx="161.6" cy="319.7" r="2.6"/>
<circle cx="154.1" cy="315.0" r="2.6"/>
<circle cx="159.4" cy="315.9" r="2.6"/>
<circle cx="156.2" cy="330.1" r="2.6"/>
<circle cx="147.7" cy="327.2" r="2.6"/>
<circle cx="153.7" cy="325.4" r="2.6"/>
<circle cx="150.8" cy="313.3" r="2.6"/>
<circle cx="148.6" cy="322.9" r="2.6"/>
<circle cx="157.3" cy="326.6" r="2.6"/>
<circle cx="147.7" cy="330.0" r="2.6"/>
<circle cx="158.1" cy="324.1" r="2.6"/>
<circle cx="156.6" cy="314.0" r="2.6"/>
<circle cx="154.5" cy="318.4" r="2.6"/>
<circle cx="158.8" cy="321.4" r="2.6"/>
<circle cx="161.8" cy="322.9" r="2.6"/>
<circle cx="406.5" cy="301.5" r="2.6"/>
<circle cx="408.5" cy="303.5" r="2.6"/>
<circle cx="421.0" cy="307.2" r="2.6"/>
<circle cx="419.0" cy="306.1" r="2.6"/>
<circle cx="423.0" cy="308.8" r="2.6"/>
<circle cx="430.5" cy="305.9" r="2.6"/>
<circle cx="437.5" cy="306.3" r="2.6"/>
<circle cx="435.0" cy="305.5" r="2.6"/>
<circle cx="441.0" cy="306.0" r="2.6"/>
<circle cx="446.0" cy="300.5" r="2.6"/>
<circle cx="444.5" cy="303.5" r="2.6"/>
<circle cx="452.0" cy="307.0" r="2.6"/>
<circle cx="449.0" cy="305.5" r="2.6"/>
<circle cx="403.5" cy="317.0" r="2.6"/>
<circle cx="453.0" cy="316.5" r="2.6"/>
<circle cx="407.4" cy="334.0" r="2.6"/>
<circle cx="415.0" cy="332.9" r="2.6"/>
<circle cx="419.4" cy="332.0" r="2.6"/>
<circle cx="425.0" cy="330.8" r="2.6"/>
<circle cx="425.5" cy="325.6" r="2.6"/>
<circle cx="435.0" cy="324.3" r="2.6"/>
<circle cx="433.0" cy="325.9" r="2.6"/>
<circle cx="442.0" cy="334.5" r="2.6"/>
<circle cx="445.0" cy="336.0" r="2.6"/>
<circle cx="452.0" cy="326.6" r="2.6"/>
<circle cx="411.0" cy="325.0" r="2.6"/>
<circle cx="429.0" cy="323.1" r="2.6"/>
<circle cx="438.5" cy="323.7" r="2.6"/>
<circle cx="432.8" cy="316.9" r="2.6"/>
<circle cx="418.5" cy="324.5" r="2.6"/>
<circle cx="438.7" cy="311.5" r="2.6"/>
<circle cx="409.5" cy="312.3" r="2.6"/>
<circle cx="432.7" cy="312.4" r="2.6"/>
<circle cx="448.3" cy="324.5" r="2.6"/>
<circle cx="449.9" cy="321.2" r="2.6"/>
<circle cx="414.5" cy="304.8" r="2.6"/>
<circle cx="435.3" cy="319.1" r="2.6"/>
<circle cx="450.0" cy="314.5" r="2.6"/>
<circle cx="417.0" cy="320.4" r="2.6"/>
<circle cx="405.1" cy="312.1" r="2.6"/>
<circle cx="415.3" cy="316.4" r="2.6"/>
<circle cx="409.3" cy="316.3" r="2.6"/>
<circle cx="407.9" cy="314.4" r="2.6"/>
<circle cx="427.0" cy="320.3" r="2.6"/>
<circle cx="411.4" cy="315.4" r="2.6"/>
<circle cx="421.6" cy="324.1" r="2.6"/>
<circle cx="421.0" cy="314.6" r="2.6"/>
<circle cx="427.4" cy="320.6" r="2.6"/>
<circle cx="408.1" cy="311.3" r="2.6"/>
<circle cx="409.5" cy="312.3" r="2.6"/>
<circle cx="435.6" cy="321.2" r="2.6"/>
<circle cx="417.4" cy="321.1" r="2.6"/>
<circle cx="447.7" cy="318.1" r="2.6"/>
<circle cx="420.4" cy="318.3" r="2.6"/>
<circle cx="417.6" cy="313.6" r="2.6"/>
<circle cx="449.3" cy="320.0" r="2.6"/>
<circle cx="430.7" cy="318.4" r="2.6"/>
<circle cx="443.5" cy="309.8" r="2.6"/>
<circle cx="406.5" cy="316.6" r="2.6"/>
<circle cx="411.9" cy="326.2" r="2.6"/>
<circle cx="419.8" cy="314.1" r="2.6"/>
<circle cx="444.6" cy="309.7" r="2.6"/>
<circle cx="420.0" cy="322.2" r="2.6"/>
<circle cx="408.8" cy="318.3" r="2.6"/>
<circle cx="419.9" cy="318.9" r="2.6"/>
<circle cx="442.7" cy="311.0" r="2.6"/>
<circle cx="430.0" cy="315.2" r="2.6"/>
<circle cx="445.7" cy="311.3" r="2.6"/>
<circle cx="450.5" cy="316.4" r="2.6"/>
<circle cx="437.4" cy="308.1" r="2.6"/>
<circle cx="421.5" cy="311.8" r="2.6"/>
<circle cx="421.4" cy="314.3" r="2.6"/>
<circle cx="451.0" cy="310.4" r="2.6"/>
<circle cx="436.5" cy="323.5" r="2.6"/>
<circle cx="413.9" cy="325.0" r="2.6"/>
<circle cx="437.1" cy="327.9" r="2.6"/>
<circle cx="446.3" cy="317.1" r="2.6"/>
<circle cx="420.9" cy="322.5" r="2.6"/>
<circle cx="447.0" cy="305.6" r="2.6"/>
<circle cx="415.5" cy="312.9" r="2.6"/>
<circle cx="439.8" cy="314.9" r="2.6"/>
<circle cx="449.8" cy="312.6" r="2.6"/>
<circle cx="450.0" cy="312.7" r="2.6"/>
<circle cx="410.9" cy="313.3" r="2.6"/>
<circle cx="438.6" cy="313.8" r="2.6"/>
<circle cx="420.4" cy="324.3" r="2.6"/>
<circle cx="421.3" cy="311.7" r="2.6"/>
<circle cx="410.1" cy="322.5" r="2.6"/>
<circle cx="442.0" cy="308.1" r="2.6"/>
<circle cx="440.6" cy="317.1" r="2.6"/>
<circle cx="427.9" cy="323.1" r="2.6"/>
<circle cx="405.8" cy="309.9" r="2.6"/>
<circle cx="407.5" cy="326.0" r="2.6"/>
<circle cx="406.0" cy="317.2" r="2.6"/>
<circle cx="447.3" cy="308.2" r="2.6"/>
<circle cx="419.9" cy="316.4" r="2.6"/>
<circle cx="443.0" cy="311.3" r="2.6"/>
<circle cx="437.9" cy="322.4" r="2.6"/>
<circle cx="446.2" cy="323.2" r="2.6"/>
<circle cx="413.8" cy="324.2" r="2.6"/>
<circle cx="478.5" cy="297.5" r="2.6"/>
<circle cx="487.0" cy="304.1" r="2.6"/>
<circle cx="495.5" cy="305.3" r="2.6"/>
<circle cx="506.5" cy="307.5" r="2.6"/>
<circle cx="510.5" cy="300.5" r="2.6"/>
<circle cx="514.0" cy="297.5" r="2.6"/>
<circle cx="520.8" cy="306.0" r="2.6"/>
<circle cx="521.0" cy="313.5" r="2.6"/>
<circle cx="474.5" cy="309.5" r="2.6"/>
<circle cx="474.0" cy="315.0" r="2.6"/>
<circle cx="473.0" cy="322.5" r="2.6"/>
<circle cx="483.0" cy="311.4" r="2.6"/>
<circle cx="491.0" cy="308.9" r="2.6"/>
<circle cx="500.0" cy="309.4" r="2.6"/>
<circle cx="503.0" cy="313.7" r="2.6"/>
<circle cx="474.0" cy="325.5" r="2.6"/>
<circle cx="481.0" cy="332.5" r="2.6"/>
<circle cx="493.5" cy="332.2" r="2.6"/>
<circle cx="498.5" cy="333.5" r="2.6"/>
<circle cx="501.0" cy="331.4" r="2.6"/>
<circle cx="507.0" cy="334.8" r="2.6"/>
<circle cx="512.0" cy="327.4" r="2.6"/>
<circle cx="518.0" cy="322.6" r="2.6"/>
<circle cx="521.0" cy="319.3" r="2.6"/>
<circle cx="477.5" cy="320.9" r="2.6"/>
<circle cx="485.0" cy="322.4" r="2.6"/>
<circle cx="489.0" cy="326.9" r="2.6"/>
<circle cx="504.0" cy="325.4" r="2.6"/>
<circle cx="509.5" cy="326.9" r="2.6"/>
<circle cx="512.5" cy="325.0" r="2.6"/>
<circle cx="518.2" cy="313.6" r="2.6"/>
<circle cx="503.7" cy="325.5" r="2.6"/>
<circle cx="475.0" cy="318.9" r="2.6"/>
<circle cx="486.2" cy="323.1" r="2.6"/>
<circle cx="484.3" cy="322.3" r="2.6"/>
<circle cx="519.6" cy="330.7" r="2.6"/>
<circle cx="482.9" cy="319.2" r="2.6"/>
<circle cx="516.3" cy="320.9" r="2.6"/>
<circle cx="478.3" cy="316.1" r="2.6"/>
<circle cx="520.0" cy="321.2" r="2.6"/>
<circle cx="493.6" cy="315.9" r="2.6"/>
<circle cx="481.9" cy="312.1" r="2.6"/>
<circle cx="507.8" cy="317.9" r="2.6"/>
<circle cx="501.8" cy="314.1" r="2.6"/>
<circle cx="512.5" cy="312.0" r="2.6"/>
<circle cx="507.2" cy="317.1" r="2.6"/>
<circle cx="495.2" cy="315.8" r="2.6"/>
<circle cx="483.5" cy="308.1" r="2.6"/>
<circle cx="517.1" cy="328.9" r="2.6"/>
<circle cx="493.7" cy="316.2" r="2.6"/>
<circle cx="500.2" cy="324.9" r="2.6"/>
<circle cx="479.2" cy="322.9" r="2.6"/>
<circle cx="494.3" cy="312.2" r="2.6"/>
<circle cx="489.5" cy="315.1" r="2.6"/>
<circle cx="474.7" cy="317.0" r="2.6"/>
<circle cx="483.4" cy="318.3" r="2.6"/>
<circle cx="510.4" cy="314.5" r="2.6"/>
<circle cx="474.9" cy="319.3" r="2.6"/>
<circle cx="519.8" cy="316.2" r="2.6"/>
<circle cx="502.1" cy="318.2" r="2.6"/>
<circle cx="478.5" cy="315.2" r="2.6"/>
<circle cx="486.8" cy="315.5" r="2.6"/>
<circle cx="497.3" cy="311.3" r="2.6"/>
<circle cx="512.7" cy="322.1" r="2.6"/>
<circle cx="478.8" cy="313.3" r="2.6"/>
<circle cx="508.4" cy="329.7" r="2.6"/>
<circle cx="505.8" cy="325.1" r="2.6"/>
<circle cx="503.8" cy="319.2" r="2.6"/>
<circle cx="515.8" cy="312.6" r="2.6"/>
<circle cx="511.8" cy="319.8" r="2.6"/>
<circle cx="480.1" cy="325.6" r="2.6"/>
<circle cx="488.6" cy="314.5" r="2.6"/>
<circle cx="513.7" cy="320.4" r="2.6"/>
<circle cx="516.3" cy="312.9" r="2.6"/>
<circle cx="486.0" cy="326.5" r="2.6"/>
<circle cx="486.9" cy="327.7" r="2.6"/>
<circle cx="486.4" cy="323.6" r="2.6"/>
<circle cx="475.4" cy="321.6" r="2.6"/>
<circle cx="489.1" cy="316.8" r="2.6"/>
<circle cx="482.2" cy="325.3" r="2.6"/>
<circle cx="513.2" cy="318.7" r="2.6"/>
<circle cx="501.1" cy="311.2" r="2.6"/>
<circle cx="510.4" cy="308.2" r="2.6"/>
<circle cx="506.8" cy="322.3" r="2.6"/>
<circle cx="475.7" cy="311.3" r="2.6"/>
<circle cx="483.3" cy="325.3" r="2.6"/>
<circle cx="547.0" cy="131.0" r="2.6"/>
<circle cx="547.3" cy="151.8" r="2.6"/>
<circle cx="546.5" cy="163.8" r="2.6"/>
<circle cx="546.0" cy="188.5" r="2.6"/>
<circle cx="548.0" cy="201.2" r="2.6"/>
<circle cx="548.3" cy="229.7" r="2.6"/>
<circle cx="549.3" cy="262.5" r="2.6"/>
<circle cx="549.5" cy="267.0" r="2.6"/>
<circle cx="544.2" cy="268.7" r="2.6"/>
<circle cx="550.0" cy="284.5" r="2.6"/>
<circle cx="549.5" cy="291.0" r="2.6"/>
<circle cx="542.0" cy="290.5" r="2.6"/>
<circle cx="544.5" cy="304.0" r="2.6"/>
<circle cx="543.5" cy="312.0" r="2.6"/>
<circle cx="541.5" cy="318.0" r="2.6"/>
<circle cx="539.5" cy="317.0" r="2.6"/>
<circle cx="544.8" cy="279.0" r="2.6"/>
<circle cx="550.6" cy="298.0" r="2.6"/>
<circle cx="543.8" cy="286.0" r="2.6"/>
<circle cx="543.0" cy="296.5" r="2.6"/>
<circle cx="542.3" cy="302.0" r="2.6"/>
<circle cx="541.8" cy="309.0" r="2.6"/>
<circle cx="551.2" cy="305.0" r="2.6"/>
<circle cx="551.8" cy="310.5" r="2.6"/>
<circle cx="554.0" cy="300.0" r="2.6"/>
<circle cx="567.0" cy="302.2" r="2.6"/>
<circle cx="565.0" cy="305.0" r="2.6"/>
<circle cx="563.0" cy="309.3" r="2.6"/>
<circle cx="574.0" cy="307.4" r="2.6"/>
<circle cx="581.5" cy="304.0" r="2.6"/>
<circle cx="583.0" cy="307.2" r="2.6"/>
<circle cx="558.0" cy="306.8" r="2.6"/>
<circle cx="560.5" cy="311.7" r="2.6"/>
<circle cx="570.0" cy="308.7" r="2.6"/>
<circle cx="578.0" cy="308.7" r="2.6"/>
<circle cx="573.5" cy="307.0" r="2.6"/>
<circle cx="581.0" cy="306.5" r="2.6"/>
<circle cx="583.0" cy="313.0" r="2.6"/>
<circle cx="553.5" cy="325.9" r="2.6"/>
<circle cx="557.0" cy="331.2" r="2.6"/>
<circle cx="561.0" cy="330.1" r="2.6"/>
<circle cx="562.0" cy="325.3" r="2.6"/>
<circle cx="571.0" cy="331.5" r="2.6"/>
<circle cx="570.5" cy="330.4" r="2.6"/>
<circle cx="579.0" cy="330.8" r="2.6"/>
<circle cx="581.0" cy="334.2" r="2.6"/>
<circle cx="565.0" cy="325.6" r="2.6"/>
<circle cx="575.5" cy="328.0" r="2.6"/>
<circle cx="584.0" cy="327.4" r="2.6"/>
<circle cx="571.0" cy="328.0" r="2.6"/>
<circle cx="578.0" cy="327.0" r="2.6"/>
<circle cx="583.0" cy="327.0" r="2.6"/>
<circle cx="553.3" cy="307.7" r="2.6"/>
<circle cx="563.2" cy="316.9" r="2.6"/>
<circle cx="559.4" cy="321.8" r="2.6"/>
<circle cx="559.6" cy="327.7" r="2.6"/>
<circle cx="558.5" cy="316.1" r="2.6"/>
<circle cx="561.9" cy="319.6" r="2.6"/>
<circle cx="552.1" cy="311.1" r="2.6"/>
<circle cx="552.7" cy="322.2" r="2.6"/>
<circle cx="552.7" cy="313.9" r="2.6"/>
<circle cx="565.4" cy="313.0" r="2.6"/>
<circle cx="560.2" cy="316.9" r="2.6"/>
<circle cx="562.7" cy="328.2" r="2.6"/>
<circle cx="562.1" cy="316.5" r="2.6"/>
<circle cx="565.6" cy="315.6" r="2.6"/>
<circle cx="563.9" cy="318.0" r="2.6"/>
<circle cx="556.2" cy="321.0" r="2.6"/>
<circle cx="552.9" cy="320.7" r="2.6"/>
<circle cx="563.5" cy="312.4" r="2.6"/>
<circle cx="560.8" cy="323.5" r="2.6"/>
<circle cx="564.0" cy="325.1" r="2.6"/>
<circle cx="560.7" cy="324.7" r="2.6"/>
<circle cx="556.4" cy="313.3" r="2.6"/>
<circle cx="556.9" cy="321.3" r="2.6"/>
<circle cx="567.3" cy="319.2" r="2.6"/>
<circle cx="566.7" cy="322.5" r="2.6"/>
<circle cx="565.3" cy="322.8" r="2.6"/>
<circle cx="560.5" cy="324.5" r="2.6"/>
<circle cx="555.1" cy="326.2" r="2.6"/>
<circle cx="561.4" cy="312.2" r="2.6"/>
<circle cx="552.2" cy="322.4" r="2.6"/>
<circle cx="561.5" cy="325.4" r="2.6"/>
<circle cx="563.0" cy="308.9" r="2.6"/>
<circle cx="569.0" cy="323.2" r="2.6"/>
<circle cx="574.6" cy="317.5" r="2.6"/>
<circle cx="574.0" cy="319.0" r="2.6"/>
<circle cx="574.0" cy="326.2" r="2.6"/>
<circle cx="584.2" cy="315.0" r="2.6"/>
<circle cx="580.5" cy="316.1" r="2.6"/>
</g>
<g fill="none" stroke="#ff00ff" stroke-linejoin="round">
<polyline stroke-width="0.95" points="87.5,316.20 88.5,316.20 89.5,316.20 90.5,316.20 91.5,316.20 92.5,316.20 93.5,316.20 94.5,316.20 95.5,316.20 96.5,316.20 97.5,316.20 98.5,316.20 99.5,316.20 100.5,316.20 101.5,316.20 102.5,316.20 103.5,316.20 104.5,316.20 105.5,316.20 106.5,316.20 107.5,316.20 108.5,316.20 109.5,316.20 110.5,316.20 111.5,316.20 112.5,316.20 113.5,316.20 114.5,316.20 115.5,316.20 116.5,316.20 117.5,316.20 118.5,316.20 119.5,316.20 120.5,316.20 121.5,316.20 122.5,316.20 123.5,316.20 124.5,316.20 125.5,316.20 126.5,316.20 127.5,316.20 128.5,316.20 129.5,316.20 130.5,316.20 131.5,316.20 132.5,316.20 133.5,316.20 134.5,316.20 135.5,316.20 136.5,316.20 137.5,316.20 138.5,316.20 139.5,316.20 140.5,316.20 141.5,316.20 142.5,316.20 143.5,316.20 144.5,316.20 145.5,316.20 146.5,316.20 147.5,316.20 148.5,316.20 149.5,316.20 150.5,316.20 151.5,316.20 152.5,316.20 153.5,316.20 154.5,316.20 155.5,316.20 156.5,316.20 157.5,316.20 158.5,316.20 159.5,316.20 160.5,316.20 161.5,316.20 162.5,316.20 163.5,316.20 164.5,316.20 165.5,316.20 166.5,316.20 167.5,316.20 168.5,316.20 169.5,316.20 170.5,316.20 171.5,316.20 172.5,316.20 173.5,316.20 174.5,316.20 175.5,316.20 176.5,316.20 177.5,316.20 178.5,316.20 179.5,316.20 180.5,316.20 181.5,316.20 182.5,316.20 183.5,316.20 184.5,316.20 185.5,316.20 186.5,316.20 187.5,316.20 188.5,316.20 189.5,316.20 190.5,316.20 191.5,316.20 192.5,316.20 193.5,316.20 194.5,316.20 195.5,316.20 196.5,316.20 197.5,316.20 198.5,316.20 199.5,316.20 200.5,316.20 201.5,316.20 202.5,316.20 203.5,316.20 204.5,316.20 205.5,316.20 206.5,316.20 207.5,316.20 208.5,316.20 209.5,316.20 210.5,316.20 211.5,316.20 212.5,316.20 213.5,316.20 214.5,316.20 215.5,316.20 216.5,316.20 217.5,316.20 218.5,316.20 219.5,316.20 220.5,316.20 221.5,316.20 222.5,316.20 223.5,316.20 224.5,316.20 225.5,316.20 226.5,316.20 227.5,316.20 228.5,316.20 229.5,316.20 230.5,316.20 231.5,316.20 232.5,316.20 233.5,316.20 234.5,316.20 235.5,316.20 236.5,316.20 237.5,316.20 238.5,316.20 239.5,316.20 240.5,316.20 241.5,316.20 242.5,316.20 243.5,316.20 244.5,316.20 245.5,316.20 246.5,316.20 247.5,316.20 248.5,316.20 249.5,316.20 250.5,316.20 251.5,316.20 252.5,316.20 253.5,316.20 254.5,316.20 255.5,316.20 256.5,316.20 257.5,316.20 258.5,316.20 259.5,316.20 260.5,316.20 261.5,316.20 262.5,316.20 263.5,316.20 264.5,316.20 265.5,316.20 266.5,316.20 267.5,316.20 268.5,316.20 269.5,316.20 270.5,316.20 271.5,316.20 272.5,316.20 273.5,316.20 274.5,316.20 275.5,316.20 276.5,316.20 277.5,316.20 278.5,316.20 279.5,316.20 280.5,316.20 281.5,316.20 282.5,316.20 283.5,316.20 284.5,316.20 285.5,316.20 286.5,316.20 287.5,316.20 288.5,316.20 289.5,316.20 290.5,316.20 291.5,316.20 292.5,316.20 293.5,316.20 294.5,316.20 295.5,316.20 296.5,316.20 297.5,316.20 298.5,316.20 299.5,316.20 300.5,316.20 301.5,316.20 302.5,316.20 303.5,316.20 304.5,316.20 305.5,316.20 306.5,316.20 307.5,316.20 308.5,316.20 309.5,316.20 310.5,316.20 311.5,316.20 312.5,316.20 313.5,316.20 314.5,316.20 315.5,316.20 316.5,316.20 317.5,316.20 318.5,316.20 319.5,316.20 320.5,316.20 321.5,316.20 322.5,316.20 323.5,316.20 324.5,316.20 325.5,316.20 326.5,316.20 327.5,316.20 328.5,316.20 329.5,316.20 330.5,316.20 331.5,316.20 332.5,316.20 333.5,316.20 334.5,316.20 335.5,316.20 336.5,316.20 337.5,316.20 338.5,316.20 339.5,316.20 340.5,316.20 341.5,316.20 342.5,316.20 343.5,316.20 344.5,316.20 345.5,316.20 346.5,316.20 347.5,316.20 348.5,316.20 349.5,316.20 350.5,316.20 351.5,316.20 352.5,316.20 353.5,316.20 354.5,316.20 355.5,316.20 356.5,316.20 357.5,316.20 358.5,316.20 359.5,316.20 360.5,316.20 361.5,316.20 362.5,316.20 363.5,316.20 364.5,316.20 365.5,316.20 366.5,316.20 367.5,316.20 368.5,316.20 369.5,316.20 370.5,316.20 371.5,316.20 372.5,316.20 373.5,316.20 374.5,316.20 375.5,316.20 376.5,316.20 377.5,316.20 378.5,316.20 379.5,316.20 380.5,316.20 381.5,316.20 382.5,316.20 383.5,316.20 384.5,316.20 385.5,316.20 386.5,316.20 387.5,316.20 388.5,316.20 389.5,316.20 390.5,316.20 391.5,316.20 392.5,316.20 393.5,316.20 394.5,316.20 395.5,316.20 396.5,316.20 397.5,316.20 398.5,316.20 399.5,316.20 400.5,316.20 401.5,316.20 402.5,316.20 403.5,316.20 404.5,316.20 405.5,316.20 406.5,316.20 407.5,316.20 408.5,316.20 409.5,316.20 410.5,316.20 411.5,316.20 412.5,316.20 413.5,316.20 414.5,316.20 415.5,316.20 416.5,316.20 417.5,316.20 418.5,316.20 419.5,316.20 420.5,316.20 421.5,316.20 422.5,316.20 423.5,316.20 424.5,316.20 425.5,316.20 426.5,316.20 427.5,316.20 428.5,316.20 429.5,316.20 430.5,316.20 431.5,316.20 432.5,316.20 433.5,316.20 434.5,316.20 435.5,316.20 436.5,316.20 437.5,316.20 438.5,316.20 439.5,316.20 440.5,316.20 441.5,316.20 442.5,316.20 443.5,316.20 444.5,316.20 445.5,316.20 446.5,316.20 447.5,316.20 448.5,316.20 449.5,316.20 450.5,316.20 451.5,316.20 452.5,316.20 453.5,316.20 454.5,316.20 455.5,316.20 456.5,316.20 457.5,316.20 458.5,316.20 459.5,316.20 460.5,316.20 461.5,316.20 462.5,316.20 463.5,316.20 464.5,316.20 465.5,316.20 466.5,316.20 467.5,316.20 468.5,316.20 469.5,316.20 470.5,316.20 471.5,316.20 472.5,316.20 473.5,316.20 474.5,316.20 475.5,316.20 476.5,316.20 477.5,316.20 478.5,316.20 479.5,316.20 480.5,316.20 481.5,316.20 482.5,316.20 483.5,316.20 484.5,316.20 485.5,316.20 486.5,316.20 487.5,316.20 488.5,316.20 489.5,316.20 490.5,316.20 491.5,316.20 492.5,316.20 493.5,316.20 494.5,316.20 495.5,316.20 496.5,316.20 497.5,316.20 498.5,316.20 499.5,316.20 500.5,316.20 501.5,316.20 502.5,316.20 503.5,316.20 504.5,316.20 505.5,316.20 506.5,316.20 507.5,316.20 508.5,316.20 509.5,316.19 510.5,316.19 511.5,316.19 512.5,316.19 513.5,316.19 514.5,316.19 515.5,316.19 516.5,316.19 517.5,316.19 518.5,316.18 519.5,316.18 520.5,316.18 521.5,316.18 522.5,316.17 523.5,316.17 524.5,316.16 525.5,316.15 526.5,316.14 527.5,316.13 528.5,316.12 529.5,316.10 530.5,316.07 531.5,316.04 532.5,315.99 532.6,315.98 532.7,315.98 532.8,315.97 532.9,315.97 533.0,315.96 533.1,315.95 533.2,315.95 533.3,315.94 533.4,315.93 533.5,315.92 533.6,315.92 533.7,315.91 533.8,315.90 533.9,315.89 534.0,315.88 534.1,315.87 534.2,315.86 534.3,315.85 534.4,315.84 534.5,315.83 534.6,315.82 534.7,315.81 534.8,315.80 534.9,315.78 535.0,315.77 535.1,315.76 535.2,315.74 535.3,315.73 535.4,315.71 535.5,315.70 535.6,315.68 535.7,315.66 535.8,315.65 535.9,315.63 536.0,315.61 536.1,315.59 536.2,315.57 536.3,315.55 536.4,315.52 536.5,315.50 536.6,315.48 536.7,315.45 536.8,315.42 536.9,315.39 537.0,315.37 537.1,315.33 537.2,315.30 537.3,315.27 537.4,315.23 537.5,315.20 537.6,315.16 537.7,315.12 537.8,315.08 537.9,315.03 538.0,314.99 538.1,314.94 538.2,314.89 538.3,314.83 538.4,314.78 538.5,314.72 538.6,314.66 538.7,314.59 538.8,314.52 538.9,314.45 539.0,314.37 539.1,314.29 539.2,314.21 539.3,314.12 539.4,314.03 539.5,313.93 539.6,313.82 539.7,313.71 539.8,313.60 539.9,313.47 540.0,313.34"/>
<polyline stroke-width="0.8" points="540.0,313.34 540.1,313.20 540.2,313.06 540.3,312.90 540.4,312.74 540.5,312.57 540.6,312.38 540.7,312.19 540.8,311.98 540.9,311.76 541.0,311.52 541.1,311.27 541.2,311.01 541.3,310.73 541.4,310.42 541.5,310.10 541.6,309.76 541.7,309.40 541.8,309.01 541.9,308.59 542.0,308.14 542.1,307.67 542.2,307.15 542.3,306.61 542.4,306.02 542.5,305.39 542.6,304.72 542.7,304.00 542.8,303.22 542.9,302.39 543.0,301.49 543.1,300.53 543.2,299.49 543.3,298.38 543.4,297.17 543.5,295.88 543.6,294.48 543.7,292.98 543.8,291.35 543.9,289.60 544.0,287.71 544.1,285.66 544.2,283.46 544.3,281.07 544.4,278.50 544.5,275.72 544.6,272.71 544.7,269.47 544.8,265.96 544.9,262.18 545.0,258.09 545.1,253.69 545.2,248.95 545.3,243.84 545.4,238.35 545.5,232.46 545.6,226.16 545.7,219.44 545.8,212.29 545.9,204.73 546.0,196.78 546.1,188.49 546.2,179.94 546.3,171.24 546.4,162.58 546.5,154.17 546.6,146.32 546.7,139.35 546.8,133.66 546.9,129.61 547.0,127.50 547.1,127.50 547.2,129.61 547.3,133.66 547.4,139.35 547.5,146.32 547.6,154.17 547.7,162.58 547.8,171.24 547.9,179.94 548.0,188.49 548.1,196.78 548.2,204.73 548.3,212.29 548.4,219.44 548.5,226.16 548.6,232.46 548.7,238.35 548.8,243.84 548.9,248.95 549.0,253.69 549.1,258.09 549.2,262.18 549.3,265.96 549.4,269.47 549.5,272.71 549.6,275.72 549.7,278.50 549.8,281.07 549.9,283.46 550.0,285.66 550.1,287.71 550.2,289.60 550.3,291.35 550.4,292.98 550.5,294.48 550.6,295.88 550.7,297.17 550.8,298.38 550.9,299.49 551.0,300.53 551.1,301.49 551.2,302.39 551.3,303.22 551.4,304.00 551.5,304.72 551.6,305.39 551.7,306.02 551.8,306.61 551.9,307.15 552.0,307.67 552.1,308.14 552.2,308.59 552.3,309.01 552.4,309.40 552.5,309.76 552.6,310.10 552.7,310.42 552.8,310.73 552.9,311.01 553.0,311.27 553.1,311.52 553.2,311.76 553.3,311.98 553.4,312.19 553.5,312.38 553.6,312.57 553.7,312.74 553.8,312.90 553.9,313.06 554.0,313.20 554.1,313.34"/>
<polyline stroke-width="0.95" points="554.1,313.34 554.2,313.47 554.3,313.60 554.4,313.71 554.5,313.82 554.6,313.93 554.7,314.03 554.8,314.12 554.9,314.21 555.0,314.29 555.1,314.37 555.2,314.45 555.3,314.52 555.4,314.59 555.5,314.66 555.6,314.72 555.7,314.78 555.8,314.83 555.9,314.89 556.0,314.94 556.1,314.99 556.2,315.03 556.3,315.08 556.4,315.12 556.5,315.16 556.6,315.20 556.7,315.23 556.8,315.27 556.9,315.30 557.0,315.33 557.1,315.37 557.2,315.39 557.3,315.42 557.4,315.45 557.5,315.48 557.6,315.50 557.7,315.52 557.8,315.55 557.9,315.57 558.0,315.59 558.1,315.61 558.2,315.63 558.3,315.65 558.4,315.66 558.5,315.68 558.6,315.70 558.7,315.71 558.8,315.73 558.9,315.74 559.0,315.76 559.1,315.77 559.2,315.78 559.3,315.80 559.4,315.81 559.5,315.82 559.6,315.83 559.7,315.84 559.8,315.85 559.9,315.86 560.0,315.87 560.1,315.88 560.2,315.89 560.3,315.90 560.4,315.91 560.5,315.92 560.6,315.92 560.7,315.93 560.8,315.94 560.9,315.95 561.0,315.95 561.1,315.96 561.2,315.97 561.3,315.97 561.4,315.98 561.5,315.98 561.6,315.99 561.7,315.99 561.8,316.00 561.9,316.00 562.0,316.01 562.1,316.01 563.1,316.05 564.1,316.08 565.1,316.11 566.1,316.13 567.1,316.14 568.1,316.15 569.1,316.16 570.1,316.16 571.1,316.17 572.1,316.17 573.1,316.18 574.1,316.18 575.1,316.18 576.1,316.19 577.1,316.19 578.1,316.19 579.1,316.19 580.1,316.19 581.1,316.19 582.1,316.19 583.1,316.19 584.1,316.19 585.1,316.20 586.1,316.20 587.1,316.20"/>
</g>
<g stroke="#000" stroke-width="1" fill="none" stroke-linecap="butt">
<rect x="87.5" y="62.5" width="500.0" height="374.5"/>
<path d="M96.14 437.0v-9.9M96.14 62.5v9.3M114.42 437.0v-9.9M114.42 62.5v9.3M132.70 437.0v-19.0M132.70 62.5v18.4M150.98 437.0v-9.9M150.98 62.5v9.3M169.26 437.0v-9.9M169.26 62.5v9.3M187.54 437.0v-9.9M187.54 62.5v9.3M205.82 437.0v-9.9M205.82 62.5v9.3M224.10 437.0v-19.0M224.10 62.5v18.4M242.38 437.0v-9.9M242.38 62.5v9.3M260.66 437.0v-9.9M260.66 62.5v9.3M278.94 437.0v-9.9M278.94 62.5v9.3M297.22 437.0v-9.9M297.22 62.5v9.3M315.50 437.0v-19.0M315.50 62.5v18.4M333.78 437.0v-9.9M333.78 62.5v9.3M352.06 437.0v-9.9M352.06 62.5v9.3M370.34 437.0v-9.9M370.34 62.5v9.3M388.62 437.0v-9.9M388.62 62.5v9.3M406.90 437.0v-19.0M406.90 62.5v18.4M425.18 437.0v-9.9M425.18 62.5v9.3M443.46 437.0v-9.9M443.46 62.5v9.3M461.74 437.0v-9.9M461.74 62.5v9.3M480.02 437.0v-9.9M480.02 62.5v9.3M498.30 437.0v-19.0M498.30 62.5v18.4M516.58 437.0v-9.9M516.58 62.5v9.3M534.86 437.0v-9.9M534.86 62.5v9.3M553.14 437.0v-9.9M553.14 62.5v9.3M571.42 437.0v-9.9M571.42 62.5v9.3M87.5 67.43h9.5M587.5 67.43h-9.5M87.5 84.70h19.3M587.5 84.70h-19.3M87.5 101.97h9.5M587.5 101.97h-9.5M87.5 119.24h9.5M587.5 119.24h-9.5M87.5 136.51h9.5M587.5 136.51h-9.5M87.5 153.78h9.5M587.5 153.78h-9.5M87.5 171.05h19.3M587.5 171.05h-19.3M87.5 188.32h9.5M587.5 188.32h-9.5M87.5 205.59h9.5M587.5 205.59h-9.5M87.5 222.86h9.5M587.5 222.86h-9.5M87.5 240.13h9.5M587.5 240.13h-9.5M87.5 257.40h19.3M587.5 257.40h-19.3M87.5 274.67h9.5M587.5 274.67h-9.5M87.5 291.94h9.5M587.5 291.94h-9.5M87.5 309.21h9.5M587.5 309.21h-9.5M87.5 326.48h9.5M587.5 326.48h-9.5M87.5 343.75h19.3M587.5 343.75h-19.3M87.5 361.02h9.5M587.5 361.02h-9.5M87.5 378.29h9.5M587.5 378.29h-9.5M87.5 395.56h9.5M587.5 395.56h-9.5M87.5 412.83h9.5M587.5 412.83h-9.5M87.5 430.10h19.3M587.5 430.10h-19.3"/>
</g>
<g font-size="18.2" stroke-width="0.6">
<text transform="rotate(0.05 337.4 40.7)"><tspan x="238.45" y="40.7" textLength="55.92" lengthAdjust="spacingAndGlyphs" stroke-width="0.5" font-size="18.1">OGLE</tspan><tspan x="294.25" y="41.5" textLength="5.00" lengthAdjust="spacingAndGlyphs" stroke-width="0.9">-</tspan><tspan x="300.12" y="40.7" textLength="41.34" lengthAdjust="spacingAndGlyphs" font-size="18.7">2025</tspan><tspan x="341.75" y="41.5" textLength="5.38" lengthAdjust="spacingAndGlyphs" stroke-width="0.9">-</tspan><tspan x="348.25" y="40.7" textLength="42.00" lengthAdjust="spacingAndGlyphs" stroke-width="0.5" font-size="18.1">BLG</tspan><tspan x="389.92" y="41.5" textLength="5.60" lengthAdjust="spacingAndGlyphs" stroke-width="0.9">-</tspan><tspan x="396.05" y="40.7" textLength="40.19" lengthAdjust="spacingAndGlyphs" font-size="18.7">0399</tspan></text>
<text transform="rotate(0.05 337.2 491.3)"><tspan x="271.62" y="491.3" textLength="41.74" lengthAdjust="spacingAndGlyphs" stroke-width="0.5" font-size="17.3">HJD</tspan> <tspan x="318.75" y="491.3" textLength="5.00" lengthAdjust="spacingAndGlyphs" stroke-width="0.9">-</tspan> <tspan x="329.62" y="491.3" textLength="73.16" lengthAdjust="spacingAndGlyphs" font-size="18.0">2450000</tspan></text>
<text transform="translate(27.0 0) rotate(-90)"><tspan x="-302.75" y="0.0" textLength="7.41" lengthAdjust="spacingAndGlyphs">I</tspan> <tspan x="-289.88" y="0.0" textLength="93.83" lengthAdjust="spacingAndGlyphs">magnitude</tspan></text>
</g>
<g font-size="18.2" stroke-width="0.6">
<text transform="rotate(0.05 132.6 462.4)"><tspan x="111.32" y="462.4" textLength="42.50" lengthAdjust="spacingAndGlyphs">8500</tspan></text>
<text transform="rotate(0.05 224.0 462.4)"><tspan x="203.05" y="462.4" textLength="41.93" lengthAdjust="spacingAndGlyphs">9000</tspan></text>
<text transform="rotate(0.05 315.2 462.4)"><tspan x="294.25" y="462.4" textLength="42.13" lengthAdjust="spacingAndGlyphs">9500</tspan></text>
<text transform="rotate(0.05 407.0 462.4)"><tspan x="380.25" y="462.4" textLength="52.63" lengthAdjust="spacingAndGlyphs">10000</tspan></text>
<text transform="rotate(0.05 498.5 462.4)"><tspan x="472.05" y="462.4" textLength="52.03" lengthAdjust="spacingAndGlyphs">10500</tspan></text>
<text transform="rotate(0.05 67.9 91.6)"><tspan x="56.75" y="91.6" textLength="21.51" lengthAdjust="spacingAndGlyphs">17</tspan></text>
<text transform="rotate(0.05 60.4 178.0)"><tspan x="41.25" y="178.0" textLength="37.54" lengthAdjust="spacingAndGlyphs">17.5</tspan></text>
<text transform="rotate(0.05 68.0 264.3)"><tspan x="56.75" y="264.3" textLength="21.73" lengthAdjust="spacingAndGlyphs">18</tspan></text>
<text transform="rotate(0.05 60.4 350.6)"><tspan x="41.25" y="350.6" textLength="37.54" lengthAdjust="spacingAndGlyphs">18.5</tspan></text>
<text transform="rotate(0.05 68.2 437.0)"><tspan x="56.62" y="437.0" textLength="22.34" lengthAdjust="spacingAndGlyphs">19</tspan></text>
</g>
</svg>
</body></html>
